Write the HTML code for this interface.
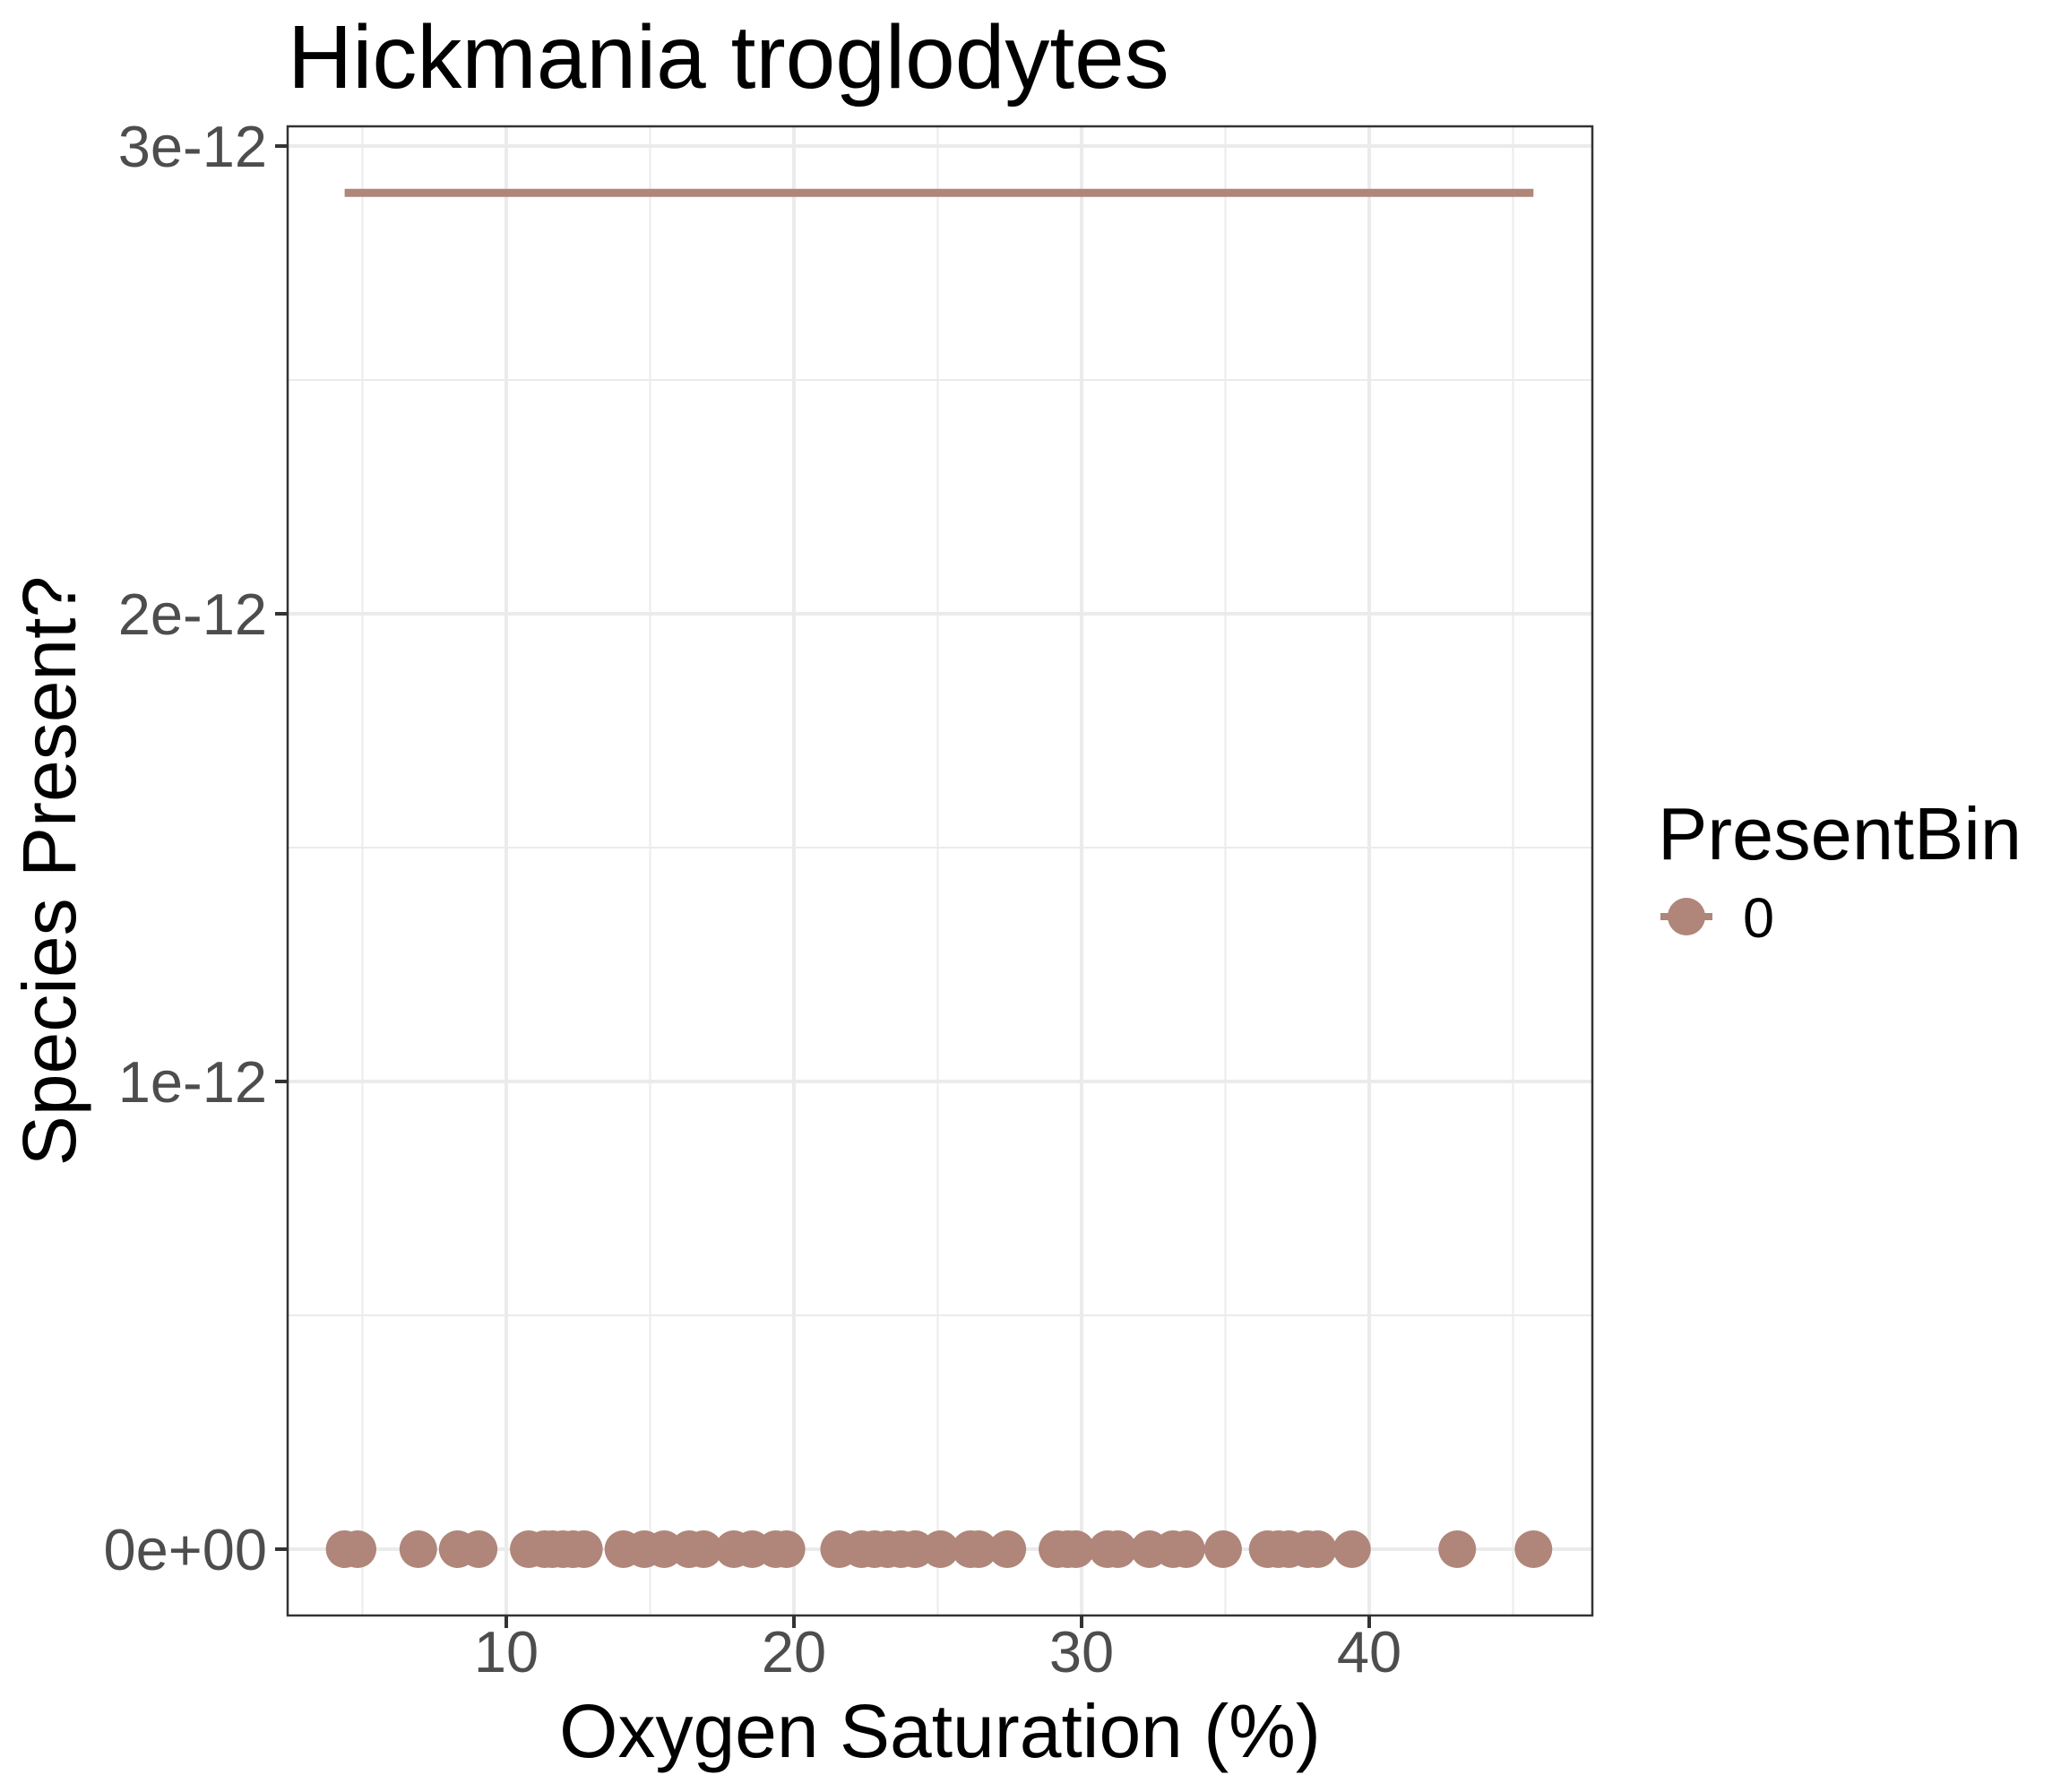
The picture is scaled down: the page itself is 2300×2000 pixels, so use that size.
<!DOCTYPE html>
<html><head><meta charset="utf-8"><style>
html,body{margin:0;padding:0;background:#fff;}
svg{display:block;font-family:"Liberation Sans",Arial,sans-serif;}
</style></head><body>
<svg id="chart" width="2300" height="2000" viewBox="0 0 2300 2000">
<text x="321" y="98" font-size="100" fill="#000">Hickmania troglodytes</text>
<g id="grid"></g>
<g id="marks"></g>
<rect x="321" y="141" width="1456" height="1662" fill="none" stroke="#333" stroke-width="2.5"/>
<g id="axes"></g>
<text x="1049" y="1961" font-size="84" text-anchor="middle" fill="#000">Oxygen Saturation (%)</text>
<text transform="translate(84,972) rotate(-90)" font-size="84" text-anchor="middle" fill="#000">Species Present?</text>
<g>
<text x="1850" y="959" font-size="83" fill="#000">PresentBin</text>
<line x1="1853" y1="1023" x2="1911" y2="1023" stroke="#b0857a" stroke-width="8"/>
<circle cx="1882" cy="1023" r="21" fill="#b0857a"/>
<text x="1945" y="1046" font-size="63" fill="#000">0</text>
</g>
</svg>
<script>
const xValues = [4.38,4.83,6.94,8.31,9.04,10.78,11.33,11.6,11.97,12.33,12.7,14.07,14.8,15.49,16.36,16.86,17.91,18.55,19.37,19.74,21.57,22.35,22.8,23.26,23.72,24.22,25.09,26.14,26.42,27.42,29.16,29.52,29.8,30.9,31.26,32.36,33.18,33.64,34.92,36.47,36.84,37.21,37.85,38.21,39.4,43.06,45.71];
const yValues = xValues.map(() => 0);
const fitValue = [2.9e-12];
const xTicks = [10,20,30,40];
const xTickLabels = ["10","20","30","40"];
const yTicks = [0,1e-12,2e-12,3e-12];
const yTickLabels = ["0e+00","1e-12","2e-12","3e-12"];
const xMinor = [5,15,25,35,45];
const yMinor = [0.5e-12,1.5e-12,2.5e-12];

const NS = "http://www.w3.org/2000/svg";
const X = v => 565 + (v - 10) * 32.1;
const Y = v => 1729 - v * 522e12;
const PL = 321, PR = 1777, PT = 141, PB = 1803;
function mk(tag, attrs, parent) {
  const e = document.createElementNS(NS, tag);
  for (const k in attrs) e.setAttribute(k, attrs[k]);
  parent.appendChild(e);
  return e;
}
const grid = document.getElementById('grid');
const marks = document.getElementById('marks');
const axes = document.getElementById('axes');
xMinor.forEach(v => {
  const l = mk('line', {x1: X(v), x2: X(v), y1: PT, y2: PB, stroke: '#ebebeb', 'stroke-width': 2}, grid);
  
  
});
yMinor.forEach(v => {
  const l = mk('line', {x1: PL, x2: PR, y1: Y(v), y2: Y(v), stroke: '#ebebeb', 'stroke-width': 2}, grid);
  
  
});
xTicks.forEach((v, i) => {
  const l = mk('line', {x1: X(v), x2: X(v), y1: PT, y2: PB, stroke: '#ebebeb', 'stroke-width': 4}, grid);
  
  
  const t = mk('line', {x1: X(v), x2: X(v), y1: PB, y2: PB + 14, stroke: '#333', 'stroke-width': 4}, axes);
  
  
  const tx = mk('text', {x: X(v), y: 1866, 'font-size': 65, 'text-anchor': 'middle', fill: '#4d4d4d'}, axes);
  tx.textContent = xTickLabels[i];
  
  
});
yTicks.forEach((v, i) => {
  const l = mk('line', {x1: PL, x2: PR, y1: Y(v), y2: Y(v), stroke: '#ebebeb', 'stroke-width': 4}, grid);
  
  
  const t = mk('line', {x1: PL - 14, x2: PL, y1: Y(v), y2: Y(v), stroke: '#333', 'stroke-width': 4}, axes);
  
  
  const tx = mk('text', {x: 298, y: Y(v) + 23, 'font-size': 65, 'text-anchor': 'end', fill: '#4d4d4d'}, axes);
  tx.textContent = yTickLabels[i];
  
  
});
const xmin = Math.min(...xValues), xmax = Math.max(...xValues);
const fit = mk('line', {x1: X(xmin), x2: X(xmax), y1: Y(fitValue[0]), y2: Y(fitValue[0]), stroke: '#b0857a', 'stroke-width': 9}, marks);


xValues.forEach((v, i) => {
  const c = mk('circle', {cx: X(v), cy: Y(yValues[i]), r: 21, fill: '#b0857a'}, marks);
  
  
});
</script>
</body></html>
